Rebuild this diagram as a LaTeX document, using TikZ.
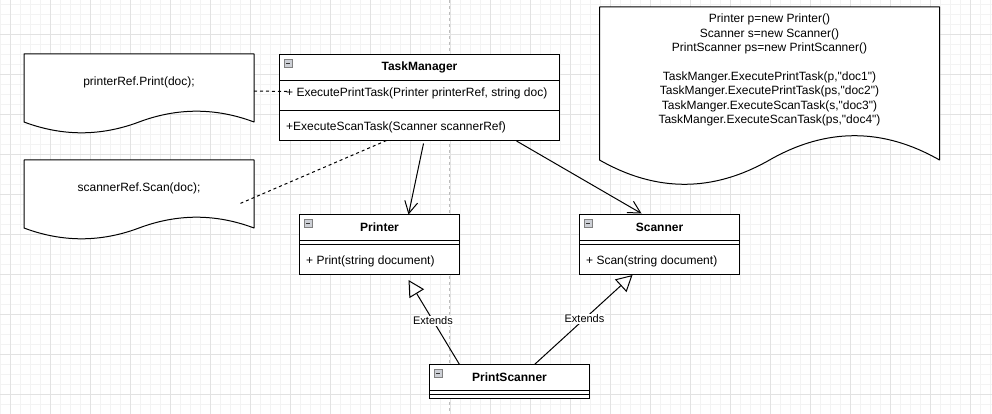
\documentclass[tikz,border=0pt]{standalone}
\usepackage{fontspec}
\setmainfont{Liberation Sans}[Ligatures=TeXOff]
\usetikzlibrary{arrows.meta,calc}

\definecolor{gridminor}{HTML}{F3F3F3}
\definecolor{gridmajor}{HTML}{E2E2E2}
\definecolor{pagegray}{HTML}{BDBDBD}
\definecolor{icongray}{HTML}{CDD0D6}

\pgfdeclarelayer{grid}
\pgfdeclarelayer{shapes}
\pgfsetlayers{grid,shapes,main}

\tikzset{
  txt/.style={font=\fontsize{12}{14.4}\selectfont},
  classbox/.style={draw, line width=1pt, fill=white, anchor=north west, inner sep=0pt, outer sep=0pt},
  classtitle/.style={txt, font=\fontsize{12}{14.4}\selectfont\bfseries, inner sep=0pt},
  member/.style={txt, anchor=west, inner sep=0pt},
  sepline/.style={line width=1pt},
  notearea/.style={txt, align=center, inner sep=0pt, outer sep=0pt},
  noteline/.style={line width=1pt, fill=white, line join=round},
  dashedge/.style={line width=1pt, dash pattern=on 3pt off 3pt},
  assoc/.style={line width=1pt, -{Straight Barb[length=12pt,width=13pt]}},
  extends/.style={line width=1pt, -{Triangle[open,length=16pt,width=17pt]}},
  edgelabel/.style={font=\fontsize{11}{13}\selectfont, fill=white, inner sep=1pt},
  iconbox/.style={draw=gray, fill=icongray, line width=0.8pt},
  iconbar/.style={line width=1pt, draw=black!80},
}

% wavy bottom of a draw.io document shape, #1 = node, #2 = wave depth
\newcommand{\docwave}[2]{%
  \draw[noteline] (#1.north west) -- (#1.north east) -- ($(#1.south east)+(0,#2/2)$)
    .. controls ($(#1.south west)!0.8333!(#1.south east)+(0,-#2/10)$) and ($(#1.south west)!0.6667!(#1.south east)+(0,-#2/10)$) .. ($(#1.south)+(0,#2/2)$)
    .. controls ($(#1.south west)!0.3333!(#1.south east)+(0,1.1*#2)$) and ($(#1.south west)!0.1667!(#1.south east)+(0,1.1*#2)$) .. ($(#1.south west)+(0,#2/2)$) -- cycle;}

\begin{document}
\begin{tikzpicture}[x=1pt, y=-1pt]
  \useasboundingbox (0,0) rectangle (992,414);

  % background grid and page break
  \begin{pgfonlayer}{grid}
    \fill[white] (0,0) rectangle (992,414);
    \foreach \gx in {0,10,...,990} \draw[gridminor] (\gx,0) -- (\gx,414);
    \foreach \gy in {4,14,...,414} \draw[gridminor] (0,\gy) -- (992,\gy);
    \foreach \gx in {10,50,...,970} \draw[gridmajor] (\gx,0) -- (\gx,414);
    \foreach \gy in {34,74,...,394} \draw[gridmajor] (0,\gy) -- (992,\gy);
    \draw[pagegray, dash pattern=on 3pt off 3pt] (449.5,0) -- (449.5,414);
  \end{pgfonlayer}

  % notes
  \node[notearea, minimum width=230pt, minimum height=56pt] (printnote) at (139,82) {printerRef.Print(doc);};
  \node[notearea, minimum width=230pt, minimum height=56pt] (scannote) at (139,188) {scannerRef.Scan(doc);};
  \node[notearea, minimum width=340pt, minimum height=126pt] (mainnote) at (769.5,70)
    {Printer p=new Printer()\\Scanner s=new Scanner()\\PrintScanner ps=new PrintScanner()\\[14.4pt]
     TaskManger.ExecutePrintTask(p,"doc1")\\TaskManger.ExecutePrintTask(ps,"doc2")\\
     TaskManger.ExecuteScanTask(s,"doc3")\\TaskManger.ExecuteScanTask(ps,"doc4")};
  \begin{pgfonlayer}{shapes}
    \docwave{printnote}{24}
    \docwave{scannote}{24}
    \docwave{mainnote}{54}
  \end{pgfonlayer}

  % classes
  \node[classbox, minimum width=280pt, minimum height=86pt] (tm) at (279.5,54.5) {};
  \node[classbox, minimum width=160pt, minimum height=60pt] (printer) at (299.5,214.5) {};
  \node[classbox, minimum width=160pt, minimum height=60pt] (scanner) at (579.5,214.5) {};
  \node[classbox, minimum width=160pt, minimum height=34pt] (ps) at (429.5,364.5) {};

  \foreach \c/\d in {tm/26, tm/56, printer/26, printer/30, scanner/26, scanner/30, ps/26, ps/30}
    \draw[sepline] ($(\c.north west)+(0,\d)$) -- ($(\c.north east)+(0,\d)$);
  \foreach \c in {tm,printer,scanner,ps}{
    \draw[iconbox] ($(\c.north west)+(4.5,5)$) rectangle ++(8,8);
    \draw[iconbar] ($(\c.north west)+(6.5,9)$) -- ++(4,0);
  }

  \node[classtitle] (tmtitle) at (419.5,67.5) {TaskManager};
  \node[member] (tmprint) at (286,93.5) {+ ExecutePrintTask(Printer printerRef, string doc)};
  \node[member] (tmscan) at (286,127.5) {+ExecuteScanTask(Scanner scannerRef)};
  \node[classtitle] (printertitle) at (379.5,227.5) {Printer};
  \node[member] (printerop) at (306,261.5) {+ Print(string document)};
  \node[classtitle] (scannertitle) at (659.5,227.5) {Scanner};
  \node[member] (scannerop) at (586,261.5) {+ Scan(string document)};
  \node[classtitle] (pstitle) at (509.5,377.5) {PrintScanner};

  % connectors
  \draw[dashedge] ($(printnote.east)+(0,9)$) -- ($(tm.north west)+(10,37)$);
  \draw[dashedge] ($(tm.south)+(-33,0)$) -- ($(scannote.south east)+(-15,-12)$);
  \draw[assoc] ($(tm.south)+(4,3)$) -- ($(printer.north)+(29,0)$);
  \draw[assoc] ($(tm.south east)+(-43,0.5)$) -- ($(scanner.north)+(-18,-1)$);
  \draw[extends] ($(ps.north)+(-50,0)$) -- node[edgelabel, pos=0.52] {Extends} ($(printer.south)+(29,5.5)$);
  \draw[extends] ($(ps.north)+(25,0)$) -- node[edgelabel, pos=0.51] {Extends} ($(scanner.south)+(-27,0.5)$);
\end{tikzpicture}
\end{document}
